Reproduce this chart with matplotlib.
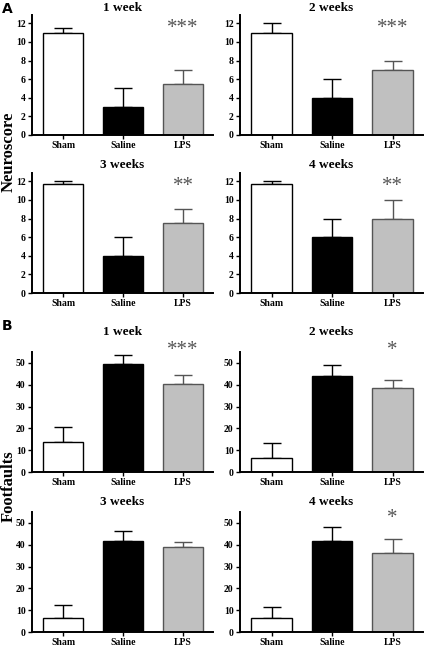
import numpy as np
import matplotlib.pyplot as plt

plt.rcParams['font.family'] = ['Liberation Serif', 'DejaVu Serif']

groups = ['Sham', 'Saline', 'LPS']
weeks = ['1 week', '2 weeks', '3 weeks', '4 weeks']

# Neuroscore (panel A): means and upper errors
neuro_mean = [[11.0, 3.0, 5.5],
              [11.0, 4.0, 7.0],
              [11.75, 4.0, 7.5],
              [11.75, 6.0, 8.0]]
neuro_err = [[0.5, 2.0, 1.5],
             [1.0, 2.0, 1.0],
             [0.25, 2.0, 1.5],
             [0.25, 2.0, 2.0]]
neuro_stars = ['***', '***', '**', '**']

# Footfaults (panel B)
foot_mean = [[13.7, 49.3, 40.2],
             [6.6, 43.8, 38.4],
             [6.2, 41.5, 38.8],
             [6.5, 41.5, 36.3]]
foot_err = [[6.9, 4.1, 4.2],
            [6.6, 5.2, 3.7],
            [6.1, 5.0, 2.6],
            [4.9, 6.5, 6.1]]
foot_stars = ['***', '*', '', '*']

fills = ['white', 'black', '#c0c0c0']
edges = ['black', 'black', '#555555']

W, H = 425, 647
fig = plt.figure(figsize=(W / 100, H / 100), dpi=100)

cols = [(32, 213), (240, 423)]
rows_a = [(15, 135), (173, 293)]
rows_b = [(352, 472), (512, 632)]
title_y_a = [8, 165]
title_y_b = [332, 502]


def make_ax(xr, yr):
    return fig.add_axes([xr[0] / W, 1 - yr[1] / H, (xr[1] - xr[0]) / W, (yr[1] - yr[0]) / H])


def draw(ax, xr, title, ty, means, errs, stars, ymax, yticks, star_y):
    x = np.arange(len(groups))
    for i in range(len(groups)):
        ax.errorbar(x[i], means[i], yerr=[[0], [errs[i]]], color=edges[i], lw=1.0,
                    capsize=6.5, capthick=1.0, zorder=1)
    ax.bar(x, means, width=0.67, color=fills, edgecolor=edges, linewidth=1.0, zorder=2)
    ax.set_xlim(-0.52, 2.5)
    ax.set_ylim(0, ymax)
    ax.set_yticks(yticks)
    ax.set_xticks(x)
    ax.set_xticklabels(groups, fontweight='bold', fontsize=7)
    for lab in ax.get_yticklabels():
        lab.set_fontweight('bold')
        lab.set_fontsize(7)
    for s in ['top', 'right']:
        ax.spines[s].set_visible(False)
    for s in ['left', 'bottom']:
        ax.spines[s].set_linewidth(1.4)
    ax.tick_params(axis='both', direction='out', length=3, width=1.0, pad=1.5)
    fig.text((xr[0] + xr[1]) / 2 / W, 1 - ty / H, title, ha='center', va='center',
             fontweight='bold', fontsize=9.5)
    if stars:
        ax.text(2, star_y, stars, ha='center', va='center', fontsize=15,
                color='#555555', clip_on=False)


for k in range(4):
    r, c = divmod(k, 2)
    ax = make_ax(cols[c], rows_a[r])
    draw(ax, cols[c], weeks[k], title_y_a[r], neuro_mean[k], neuro_err[k],
         neuro_stars[k], 12.9, range(0, 13, 2), 11.5)

for k in range(4):
    r, c = divmod(k, 2)
    ax = make_ax(cols[c], rows_b[r])
    draw(ax, cols[c], weeks[k], title_y_b[r], foot_mean[k], foot_err[k],
         foot_stars[k], 55, range(0, 51, 10), 55.5 if r == 0 else 52)

fig.text(9 / W, 1 - 152 / H, 'Neuroscore', rotation=90, ha='center', va='center',
         fontweight='bold', fontsize=12)
fig.text(9 / W, 1 - 486 / H, 'Footfaults', rotation=90, ha='center', va='center',
         fontweight='bold', fontsize=12)
fig.text(2 / W, 1 - 9 / H, 'A', ha='left', va='center', fontweight='bold',
         fontsize=10, family='DejaVu Sans')
fig.text(2 / W, 1 - 326 / H, 'B', ha='left', va='center', fontweight='bold',
         fontsize=10, family='DejaVu Sans')

fig.savefig('out.png', dpi=100)
